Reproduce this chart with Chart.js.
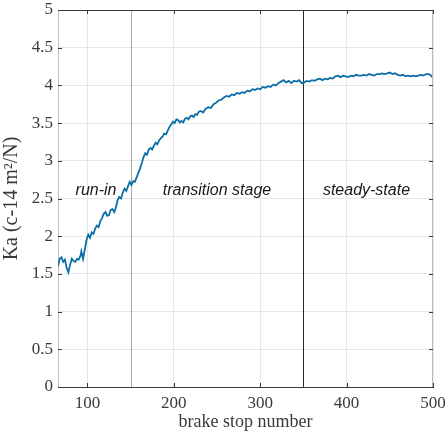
<!DOCTYPE html>
<html>
<head>
<meta charset="utf-8">
<script src="https://cdn.jsdelivr.net/npm/chart.js@4.4.1/dist/chart.umd.min.js"></script>
<style>
  html, body { margin: 0; padding: 0; background: #ffffff; }
  #wrap { width: 445px; height: 433px; position: relative; }
</style>
</head>
<body>
<div id="wrap"><canvas id="c" width="445" height="433"></canvas></div>
<script>
// ---- data ----
const brakeStops = [66,68,70,72,74,76,78,80,82,84,86,88,90,92,93,95,97,99,101,103,105,107,109,111,113,115,117,119,121,123,125,127,129,131,133,135,137,139,141,143,145,147,149,151,153,155,157,159,161,163,165,167,169,171,173,175,177,179,181,183,185,187,189,191,193,195,197,199,201,203,205,207,209,211,213,215,217,219,221,223,225,227,229,231,234,237,240,243,246,249,252,255,258,261,264,267,270,273,276,279,282,285,288,291,294,297,300,303,306,309,312,315,318,321,324,327,330,333,336,339,342,345,348,351,354,357,360,363,366,369,372,375,378,381,384,387,390,393,396,399,402,405,408,411,414,417,420,423,426,429,432,435,438,441,444,447,450,453,456,459,462,465,468,471,474,477,480,483,486,489,492,495,498,500];
const kaValues = [1.60,1.70,1.72,1.66,1.69,1.58,1.52,1.62,1.70,1.67,1.66,1.70,1.69,1.74,1.80,1.70,1.82,1.95,2.02,1.98,2.05,2.03,2.10,2.14,2.12,2.20,2.24,2.30,2.32,2.27,2.28,2.35,2.36,2.32,2.38,2.48,2.52,2.50,2.58,2.63,2.60,2.66,2.72,2.68,2.73,2.72,2.78,2.84,2.90,2.97,3.05,3.10,3.08,3.15,3.17,3.15,3.20,3.24,3.22,3.27,3.30,3.32,3.36,3.35,3.40,3.45,3.48,3.52,3.50,3.55,3.54,3.51,3.53,3.51,3.56,3.57,3.55,3.59,3.60,3.58,3.62,3.61,3.65,3.66,3.64,3.69,3.71,3.70,3.75,3.77,3.80,3.81,3.84,3.86,3.85,3.88,3.87,3.90,3.89,3.91,3.90,3.93,3.92,3.95,3.94,3.96,3.95,3.98,3.97,3.99,3.98,4.01,4.00,4.03,4.05,4.07,4.04,4.06,4.03,4.06,4.05,4.07,4.03,4.04,4.06,4.05,4.07,4.06,4.08,4.09,4.07,4.09,4.08,4.10,4.09,4.12,4.13,4.11,4.13,4.12,4.11,4.13,4.12,4.14,4.13,4.13,4.14,4.13,4.15,4.14,4.13,4.15,4.15,4.16,4.15,4.16,4.17,4.15,4.16,4.14,4.13,4.14,4.12,4.13,4.12,4.13,4.12,4.13,4.14,4.13,4.15,4.15,4.13,4.10];
const xTickValues = [100, 200, 300, 400, 500];
const yTickValues = [0, 0.5, 1, 1.5, 2, 2.5, 3, 3.5, 4, 4.5, 5];
const yTickLabels = ["0", "0.5", "1", "1.5", "2", "2.5", "3", "3.5", "4", "4.5", "5"];
const stageBoundaries = [150, 350];
const stageLabels = ["run-in", "transition stage", "steady-state"];
const stageLabelX = [110, 250, 423];
const stageLabelY = 2.6;
const xTitle = "brake stop number";
const yTitle = "Ka (c-14 m\u00B2/N)";

// ---- chart ----
const points = brakeStops.map((s, i) => ({ x: s, y: kaValues[i] }));

const decorPlugin = {
  id: 'decor',
  beforeDatasetsDraw(chart) {
    const { ctx, chartArea: a, scales: { x } } = chart;
    ctx.save();
    stageBoundaries.forEach((b, i) => {
      const px = Math.round(x.getPixelForValue(b)) + 0.5;
      ctx.strokeStyle = i === 0 ? '#a8a8a8' : '#2a2a2a';
      ctx.lineWidth = 1;
      ctx.beginPath(); ctx.moveTo(px, a.top); ctx.lineTo(px, a.bottom); ctx.stroke();
    });
    ctx.restore();
  },
  afterDatasetsDraw(chart) {
    const { ctx, chartArea: a, scales: { x, y } } = chart;
    ctx.save();
    ctx.strokeStyle = '#3a3a3a';
    ctx.lineWidth = 1;
    ctx.beginPath();
    ctx.moveTo(a.left, Math.round(a.top) + 0.5); ctx.lineTo(a.right, Math.round(a.top) + 0.5);
    ctx.stroke();
    ctx.strokeStyle = '#bdbdbd';
    ctx.beginPath();
    ctx.moveTo(Math.round(a.right) - 0.5, a.top); ctx.lineTo(Math.round(a.right) - 0.5, a.bottom);
    ctx.stroke();
    ctx.strokeStyle = '#3a3a3a';
    ctx.beginPath();
    yTickValues.forEach(v => {
      const py = Math.round(y.getPixelForValue(v)) + 0.5;
      ctx.moveTo(a.left, py); ctx.lineTo(a.left + 4, py);
      ctx.moveTo(a.right, py); ctx.lineTo(a.right - 4, py);
    });
    xTickValues.forEach(v => {
      const px = Math.round(x.getPixelForValue(v)) + 0.5;
      ctx.moveTo(px, a.bottom); ctx.lineTo(px, a.bottom - 4);
      ctx.moveTo(px, a.top); ctx.lineTo(px, a.top + 4);
    });
    ctx.stroke();
    ctx.fillStyle = '#1a1a1a';
    ctx.font = 'italic 16px "Liberation Sans", Arial, sans-serif';
    ctx.textAlign = 'center';
    ctx.textBaseline = 'middle';
    stageLabels.forEach((t, i) => {
      ctx.fillText(t, x.getPixelForValue(stageLabelX[i]), y.getPixelForValue(stageLabelY));
    });
    ctx.restore();
  }
};

new Chart(document.getElementById('c'), {
  type: 'line',
  data: {
    datasets: [{
      data: points,
      borderColor: '#0d6ea8',
      borderWidth: 1.8,
      pointRadius: 0,
      tension: 0,
      fill: false
    }]
  },
  options: {
    responsive: false,
    animation: false,
    devicePixelRatio: 1,
    layout: { padding: { top: 10, right: 12, left: 0, bottom: 0 } },
    plugins: { legend: { display: false }, tooltip: { enabled: false } },
    scales: {
      x: {
        type: 'linear',
        min: 66, max: 500,
        afterBuildTicks: s => { s.ticks = xTickValues.map(v => ({ value: v })); },
        afterFit: s => { s.height = 46; s.paddingLeft = 0; s.paddingRight = 0; },
        grid: { color: '#e6e6e6', lineWidth: 1, drawTicks: false },
        border: { color: '#3a3a3a', width: 1 },
        ticks: {
          color: '#3a3a3a', padding: 6,
          font: { family: '"Liberation Serif", "Times New Roman", serif', size: 17 },
          maxRotation: 0
        },
        title: {
          display: true, text: xTitle, color: '#3a3a3a', padding: { top: 0, bottom: 0 },
          font: { family: '"Liberation Serif", "Times New Roman", serif', size: 18 }
        }
      },
      y: {
        type: 'linear',
        min: 0, max: 5,
        afterBuildTicks: s => { s.ticks = yTickValues.map(v => ({ value: v })); },
        afterFit: s => { s.width = 58; s.paddingTop = 0; s.paddingBottom = 0; },
        grid: { color: '#e6e6e6', lineWidth: 1, drawTicks: false },
        border: { color: '#bdbdbd', width: 1 },
        ticks: {
          color: '#3a3a3a', padding: 5,
          font: { family: '"Liberation Serif", "Times New Roman", serif', size: 17 },
          callback: (v) => { const i = yTickValues.indexOf(v); return i >= 0 ? yTickLabels[i] : ''; }
        },
        title: {
          display: true, text: yTitle, color: '#3a3a3a', padding: { top: 0, bottom: 1 },
          font: { family: '"Liberation Serif", "Times New Roman", serif', size: 20 }
        }
      }
    }
  },
  plugins: [decorPlugin]
});
</script>
</body>
</html>
